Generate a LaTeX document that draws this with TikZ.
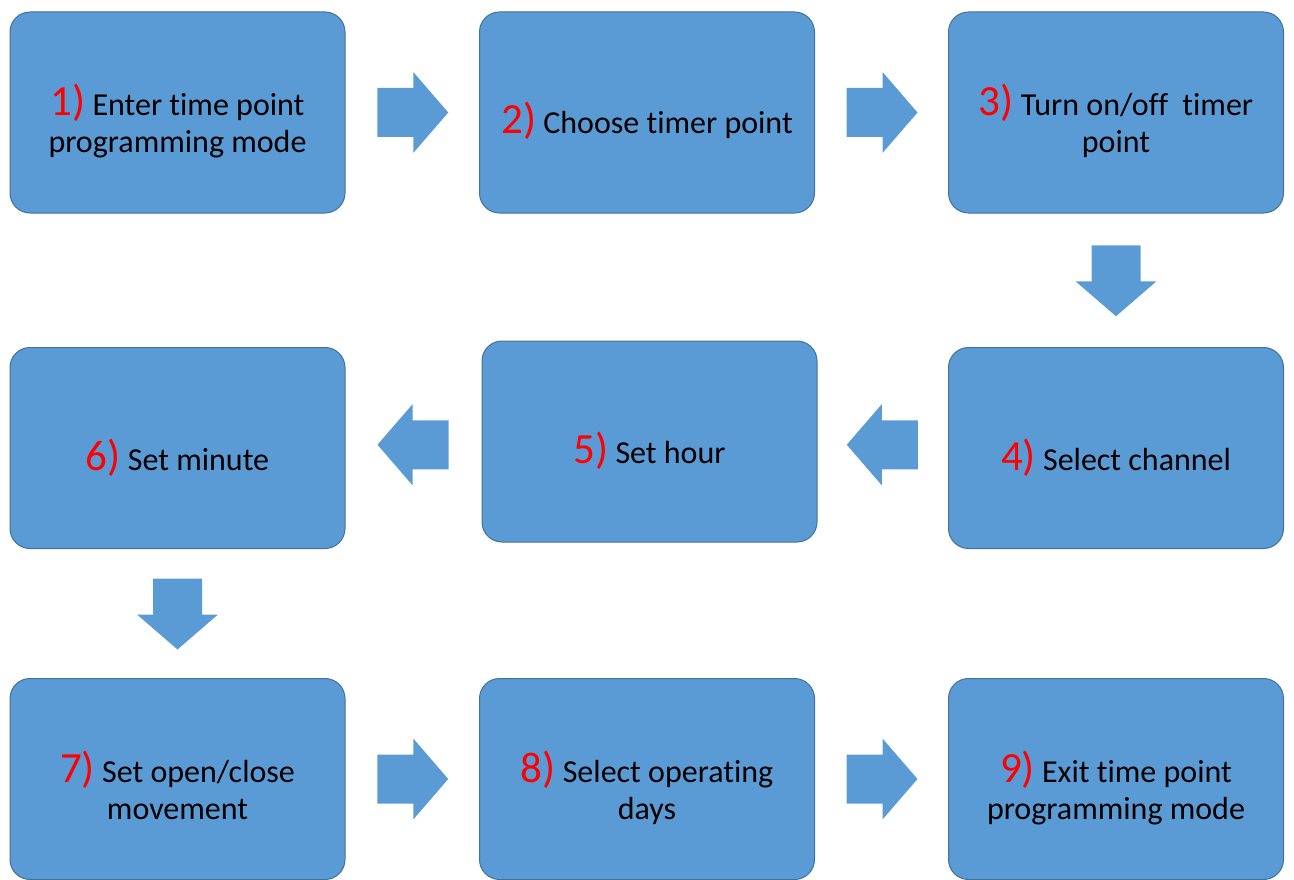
\documentclass[tikz,border=0pt]{standalone}
\usepackage{fontspec}
\setmainfont{Carlito}[RawFeature=-liga]
\usetikzlibrary{calc}
\definecolor{boxblue}{RGB}{91,155,213}
\definecolor{boxedge}{RGB}{65,113,156}
\definecolor{numred}{RGB}{255,0,0}
\tikzset{
 stepbox/.style={rounded corners=20pt,draw=boxedge,line width=1pt,fill=boxblue,
  minimum width=335pt,minimum height=201pt},
 steptext/.style={align=center,font=\fontsize{32}{37}\selectfont,text=black,inner sep=0pt},
 blockarrow/.style={fill=boxblue}
}
\newcommand\stepno[1]{{\fontsize{43}{37}\selectfont\color{numred}#1)}}
% block arrow half way between two boxes, turned by the given angle
\newcommand\flowarrow[3]{%
 \fill[blockarrow,shift={($(#1)!.5!(#2)$)},rotate=#3]
  (-35,-24.5)--(1,-24.5)--(1,-40.5)--(36,0)--(1,40.5)--(1,24.5)--(-35,24.5)--cycle;}
\begin{document}
\begin{tikzpicture}[x=1pt,y=-1pt]
\useasboundingbox (0,0) rectangle (1294,880);
\node[stepbox] (s1) at (177.5,112.5) {};
\node[stepbox] (s2) at (647,112.5) {};
\node[stepbox] (s3) at (1116,112.5) {};
\node[stepbox] (s4) at (1116,448) {};
\node[stepbox] (s5) at (649.5,441.5) {};
\node[stepbox] (s6) at (177.5,448) {};
\node[stepbox] (s7) at (177.5,779) {};
\node[stepbox] (s8) at (647,779) {};
\node[stepbox] (s9) at (1116,779) {};
\node[steptext] (t1) at ([yshift=-11pt]s1.center) {\stepno{1} Enter time point\\programming mode\strut};
\node[steptext] (t2) at ([yshift=-11pt]s2.center) {\stepno{2} Choose timer point\strut};
\node[steptext] (t3) at ([yshift=-11pt]s3.center) {\stepno{3} Turn on/off~ timer\\point\strut};
\node[steptext] (t4) at ([yshift=-12pt]s4.center) {\stepno{4} Select channel\strut};
\node[steptext] (t5) at ([yshift=-12pt]s5.center) {\stepno{5} Set hour\strut};
\node[steptext] (t6) at ([yshift=-12pt]s6.center) {\stepno{6} Set minute\strut};
\node[steptext] (t7) at ([yshift=-12pt]s7.center) {\stepno{7} Set open/close\\movement\strut};
\node[steptext] (t8) at ([yshift=-12pt]s8.center) {\stepno{8} Select operating\\days\strut};
\node[steptext] (t9) at ([yshift=-12pt]s9.center) {\stepno{9} Exit time point\\programming mode\strut};
\flowarrow{s1.east}{s2.west}{0}
\flowarrow{s2.east}{s3.west}{0}
\flowarrow{s3.south}{s4.north}{-90}
\flowarrow{s4.west}{s5.east}{180}
\flowarrow{s5.west}{s6.east}{180}
\flowarrow{s6.south}{s7.north}{-90}
\flowarrow{s7.east}{s8.west}{0}
\flowarrow{s8.east}{s9.west}{0}
\end{tikzpicture}
\end{document}
